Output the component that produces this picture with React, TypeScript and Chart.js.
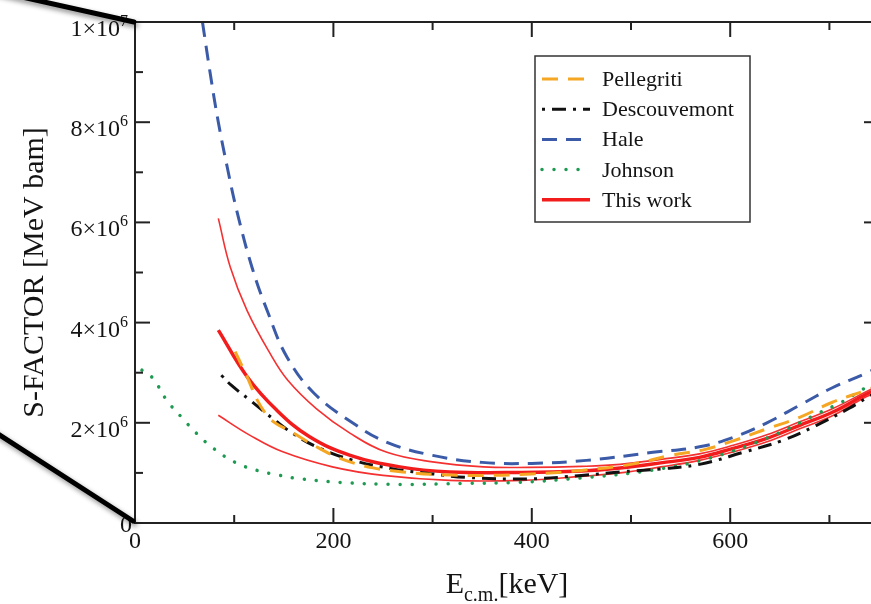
import { useEffect, useRef } from 'react';
import { Chart, ChartConfiguration, Plugin, registerables } from 'chart.js';

Chart.register(...registerables);

// S-factor curves, x in keV (c.m.), y in units of 1e6 MeV bam
const PELL_X = [101, 109, 133, 161, 185, 208, 240, 270, 300, 350, 400, 450, 500, 540, 575, 603, 637, 670, 703, 737, 750];
const PELL_Y = [3.42, 3.09, 2.15, 1.78, 1.5, 1.28, 1.1, 1.02, 0.97, 0.95, 0.98, 1.05, 1.17, 1.35, 1.47, 1.64, 1.88, 2.11, 2.41, 2.65, 2.75];

const DESC_X = [87, 97, 116, 143, 159, 183, 220, 260, 300, 334, 396, 450, 489, 530, 569, 613, 653, 687, 720, 737, 750];
const DESC_Y = [2.95, 2.75, 2.45, 2.02, 1.79, 1.52, 1.25, 1.08, 0.98, 0.91, 0.88, 0.95, 1.02, 1.08, 1.17, 1.41, 1.65, 1.95, 2.29, 2.49, 2.63];

const HALE_X = [68, 76, 84, 93, 103, 118, 134, 153, 180, 220, 254, 300, 350, 400, 455, 522, 569, 603, 637, 670, 703, 737, 750];
const HALE_Y = [10.0, 8.95, 8.0, 7.1, 6.2, 5.1, 4.2, 3.32, 2.6, 1.99, 1.61, 1.35, 1.21, 1.19, 1.25, 1.41, 1.52, 1.71, 2.0, 2.35, 2.7, 2.99, 3.12];

const JOHN_X = [7, 18, 32, 47, 62, 79, 101, 123, 146, 159, 207, 267, 334, 385, 450, 520, 580, 640, 690, 713, 733, 750];
const JOHN_Y = [3.05, 2.89, 2.45, 2.11, 1.79, 1.49, 1.21, 1.05, 0.95, 0.9, 0.81, 0.77, 0.79, 0.81, 0.9, 1.05, 1.3, 1.72, 2.2, 2.42, 2.66, 2.85];

const WORK_X = [84, 113, 143, 176, 217, 267, 317, 390, 450, 489, 530, 569, 603, 637, 670, 703, 737, 750];
const WORK_Y = [3.85, 2.92, 2.25, 1.72, 1.35, 1.12, 1.02, 1.01, 1.04, 1.1, 1.2, 1.31, 1.49, 1.69, 1.95, 2.21, 2.57, 2.68];

const WORK_UP_X = [84, 96, 113, 136, 154, 183, 217, 254, 300, 351, 396, 450, 489, 530, 569, 603, 637, 670, 703, 737, 750];
const WORK_UP_Y = [6.08, 5.11, 4.24, 3.39, 2.85, 2.28, 1.79, 1.41, 1.22, 1.12, 1.11, 1.13, 1.17, 1.27, 1.38, 1.55, 1.76, 2.02, 2.28, 2.62, 2.75];

const WORK_LO_X = [84, 116, 149, 199, 250, 317, 390, 450, 489, 530, 569, 603, 637, 670, 703, 737, 750];
const WORK_LO_Y = [2.15, 1.75, 1.42, 1.12, 0.95, 0.85, 0.85, 0.93, 1.0, 1.12, 1.25, 1.42, 1.62, 1.88, 2.14, 2.52, 2.62];

const LEGEND_LABELS = ['Pellegriti', 'Descouvemont', 'Hale', 'Johnson', 'This work'];

const X_MAJOR = [0, 200, 400, 600];
const X_MINOR = [100, 300, 500, 700];
const X_LABELS = ['0', '200', '400', '600'];
const Y_MAJOR = [0, 2e6, 4e6, 6e6, 8e6, 1e7];
const Y_MINOR = [1e6, 3e6, 5e6, 7e6, 9e6];
const Y_BASE = ['0', '2×10', '4×10', '6×10', '8×10', '1×10'];
const Y_EXP = ['', '6', '6', '6', '6', '7'];

const SERIF = '"Liberation Serif", "Times New Roman", serif';
const INK = '#141414';

const pts = (xs: number[], ys: number[]) => xs.map((x, i) => ({ x, y: ys[i] * 1e6 }));

const decor: Plugin<'line'> = {
  id: 'decor',
  afterDraw(chart) {
    const { ctx, chartArea: a } = chart;
    const x = chart.scales.x;
    const y = chart.scales.y;
    const seg = (x1: number, y1: number, x2: number, y2: number) => {
      ctx.beginPath();
      ctx.moveTo(x1, y1);
      ctx.lineTo(x2, y2);
      ctx.stroke();
    };
    ctx.save();

    // frame and inward ticks on all four sides
    ctx.strokeStyle = '#222';
    ctx.lineWidth = 2;
    ctx.strokeRect(a.left, a.top, a.right - a.left, a.bottom - a.top);
    X_MAJOR.forEach(v => {
      const p = x.getPixelForValue(v);
      seg(p, a.bottom, p, a.bottom - 15);
      seg(p, a.top, p, a.top + 15);
    });
    X_MINOR.forEach(v => {
      const p = x.getPixelForValue(v);
      seg(p, a.bottom, p, a.bottom - 8);
      seg(p, a.top, p, a.top + 8);
    });
    Y_MAJOR.forEach(v => {
      const p = y.getPixelForValue(v);
      seg(a.left, p, a.left + 15, p);
      seg(a.right, p, a.right - 15, p);
    });
    Y_MINOR.forEach(v => {
      const p = y.getPixelForValue(v);
      seg(a.left, p, a.left + 8, p);
      seg(a.right, p, a.right - 8, p);
    });

    // tick labels
    ctx.fillStyle = INK;
    ctx.textBaseline = 'alphabetic';
    ctx.textAlign = 'center';
    ctx.font = `24px ${SERIF}`;
    X_MAJOR.forEach((v, i) => {
      ctx.fillText(X_LABELS[i], x.getPixelForValue(v), a.bottom + 25);
    });
    ctx.textAlign = 'right';
    Y_MAJOR.forEach((v, i) => {
      const p = y.getPixelForValue(v);
      if (!Y_EXP[i]) {
        ctx.font = `24px ${SERIF}`;
        ctx.fillText(Y_BASE[i], a.left - 3, p + 9);
        return;
      }
      ctx.font = `16px ${SERIF}`;
      const sw = ctx.measureText(Y_EXP[i]).width;
      ctx.fillText(Y_EXP[i], a.left - 7, p + 4);
      ctx.font = `24px ${SERIF}`;
      ctx.fillText(Y_BASE[i], a.left - 7 - sw, p + 14);
    });

    // axis titles
    ctx.save();
    ctx.translate(43, (a.top + a.bottom) / 2);
    ctx.rotate(-Math.PI / 2);
    ctx.textAlign = 'center';
    ctx.font = `30px ${SERIF}`;
    ctx.fillText('S-FACTOR [MeV bam]', 0, 0);
    ctx.restore();

    ctx.textAlign = 'left';
    ctx.font = `30px ${SERIF}`;
    const wE = ctx.measureText('E').width;
    const wK = ctx.measureText('[keV]').width;
    ctx.font = `20px ${SERIF}`;
    const wS = ctx.measureText('c.m.').width;
    let tx = (a.left + a.right) / 2 - (wE + wS + wK) / 2;
    ctx.font = `30px ${SERIF}`;
    ctx.fillText('E', tx, a.bottom + 70);
    tx += wE;
    ctx.font = `20px ${SERIF}`;
    ctx.fillText('c.m.', tx, a.bottom + 78);
    tx += wS;
    ctx.font = `30px ${SERIF}`;
    ctx.fillText('[keV]', tx, a.bottom + 70);

    // boxed legend
    const lx = a.left + 400;
    const ly = a.top + 34;
    ctx.fillStyle = '#fff';
    ctx.fillRect(lx, ly, 215, 166);
    ctx.strokeStyle = '#333';
    ctx.lineWidth = 1.5;
    ctx.strokeRect(lx, ly, 215, 166);
    LEGEND_LABELS.forEach((label, i) => {
      const ds: any = chart.data.datasets[i];
      const ry = ly + 23 + i * 30.2;
      ctx.save();
      ctx.strokeStyle = ds.borderColor;
      ctx.lineWidth = ds.borderWidth;
      ctx.lineCap = ds.borderCapStyle || 'butt';
      ctx.setLineDash(ds.borderDash || []);
      seg(lx + 7, ry, lx + 55, ry);
      ctx.restore();
      ctx.fillStyle = INK;
      ctx.font = `22px ${SERIF}`;
      ctx.fillText(label, lx + 67, ry + 7);
    });

    // zoom-indicator lines coming in from the left
    ctx.strokeStyle = '#000';
    ctx.lineWidth = 5;
    ctx.lineCap = 'round';
    ctx.setLineDash([]);
    ctx.shadowColor = 'rgba(0,0,0,0.45)';
    ctx.shadowBlur = 5;
    ctx.shadowOffsetX = 2;
    ctx.shadowOffsetY = 3;
    seg(-5, a.top - 31, a.left - 1, a.top);
    seg(-5, a.bottom - 91, a.left - 2, a.bottom - 2);
    ctx.restore();
  },
};

export default function App() {
  const canvasRef = useRef<HTMLCanvasElement>(null);
  const chartRef = useRef<Chart | null>(null);

  useEffect(() => {
    if (!canvasRef.current) return;
    const ctx = canvasRef.current.getContext('2d');
    if (!ctx) return;
    if (chartRef.current) chartRef.current.destroy();

    const common = { pointRadius: 0, fill: false, tension: 0.4 };

    const config: ChartConfiguration<'line'> = {
      type: 'line',
      data: {
        datasets: [
          { ...common, label: LEGEND_LABELS[0], data: pts(PELL_X, PELL_Y), borderColor: '#f5a623', borderWidth: 3, borderDash: [16, 10] },
          { ...common, label: LEGEND_LABELS[1], data: pts(DESC_X, DESC_Y), borderColor: '#111', borderWidth: 3, borderDash: [3, 7, 14, 7] },
          { ...common, label: LEGEND_LABELS[2], data: pts(HALE_X, HALE_Y), borderColor: '#3b5ba8', borderWidth: 3, borderDash: [15, 9] },
          { ...common, label: LEGEND_LABELS[3], data: pts(JOHN_X, JOHN_Y), borderColor: '#1e9a52', borderWidth: 3.5, borderDash: [0.01, 12], borderCapStyle: 'round' },
          { ...common, label: LEGEND_LABELS[4], data: pts(WORK_X, WORK_Y), borderColor: '#f21c1c', borderWidth: 3.5 },
          { ...common, label: 'upper', data: pts(WORK_UP_X, WORK_UP_Y), borderColor: '#f53030', borderWidth: 1.6 },
          { ...common, label: 'lower', data: pts(WORK_LO_X, WORK_LO_Y), borderColor: '#f53030', borderWidth: 1.6 },
        ],
      },
      options: {
        responsive: false,
        animation: false,
        layout: { padding: { left: 135, top: 22, right: 21, bottom: 81 } },
        plugins: { legend: { display: false }, tooltip: { enabled: false } },
        scales: {
          x: { type: 'linear', min: 0, max: 750, display: false },
          y: { type: 'linear', min: 0, max: 1e7, display: false },
        },
      },
      plugins: [decor],
    };

    chartRef.current = new Chart(ctx, config);
    return () => {
      if (chartRef.current) {
        chartRef.current.destroy();
        chartRef.current = null;
      }
    };
  }, []);

  return (
    <div style={{ position: 'fixed', left: 0, top: 0, width: 871, height: 604, overflow: 'hidden', background: '#fff' }}>
      <canvas ref={canvasRef} width={900} height={604} style={{ width: 900, height: 604, display: 'block' }}></canvas>
    </div>
  );
}
